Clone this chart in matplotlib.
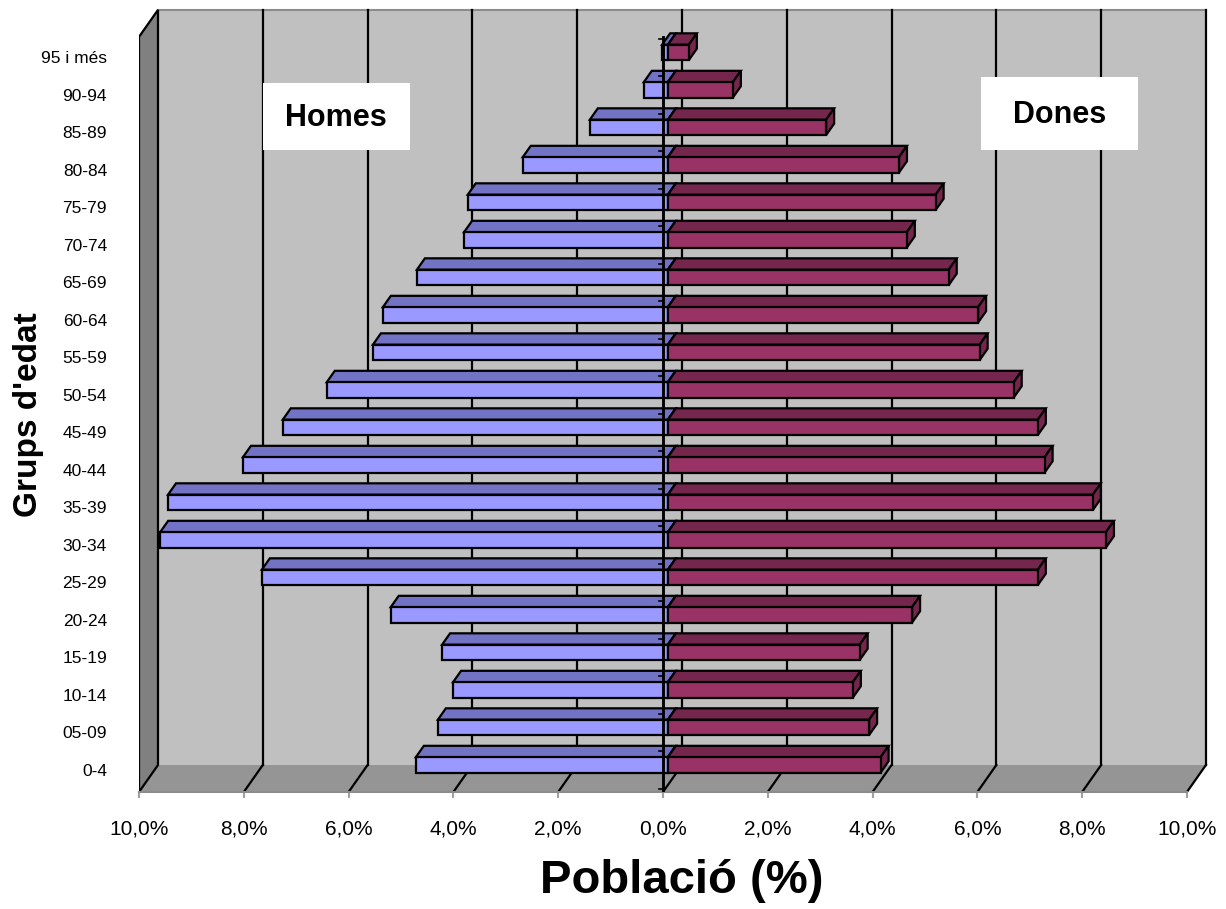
import matplotlib
matplotlib.use("Agg")
import matplotlib.pyplot as plt
from matplotlib.patches import Polygon, Rectangle

plt.rcParams['font.family'] = ['Liberation Sans', 'DejaVu Sans']

# ---------------- data ----------------
age_groups = ["0-4", "05-09", "10-14", "15-19", "20-24", "25-29", "30-34", "35-39",
              "40-44", "45-49", "50-54", "55-59", "60-64", "65-69", "70-74", "75-79",
              "80-84", "85-89", "90-94", "95 i més"]
homes = [4.81, 4.39, 4.10, 4.31, 5.29, 7.75, 9.69, 9.54, 8.11, 7.35,
         6.51, 5.63, 5.44, 4.79, 3.89, 3.82, 2.77, 1.49, 0.46, 0.11]
dones = [4.06, 3.84, 3.53, 3.66, 4.66, 7.06, 8.36, 8.11, 7.19, 7.06,
         6.60, 5.95, 5.92, 5.36, 4.56, 5.11, 4.41, 3.02, 1.24, 0.40]
xticks = [-10, -8, -6, -4, -2, 0, 2, 4, 6, 8, 10]
xticklabels = ["10,0%", "8,0%", "6,0%", "4,0%", "2,0%", "0,0%", "2,0%", "4,0%", "6,0%", "8,0%", "10,0%"]

# ---------------- style / geometry ----------------
W, H = 1226, 909
fig = plt.figure(figsize=(W / 100, H / 100), dpi=100)
ax = fig.add_axes([139 / W, (H - 792) / H, 1071 / W, 784 / H])
XMIN, XMAX = -10, 10
CBOT, CTOP = -0.587, 19.55          # front plane extent in category units
DX, DY = 0.3626, 0.72               # wall depth offset
F0, F1 = 0.26, 0.68                 # bar depth fractions
HH = 0.205                          # bar half height
ax.set_xlim(-10, 10.44)
ax.set_ylim(CBOT, 20.32)

wall_c = "#C0C0C0"
side_c = "#808080"
floor_c = "#959595"
men_front, men_top = "#9999FF", "#7373C6"
wom_front, wom_top = "#993366", "#74264D"
LW = 1.6

# back wall
ax.add_patch(Polygon([(XMIN + DX, CBOT + DY), (XMAX + DX, CBOT + DY),
                      (XMAX + DX, CTOP + DY), (XMIN + DX, CTOP + DY)],
                     closed=True, facecolor=wall_c, edgecolor="none", zorder=1))
ax.plot([XMIN + DX, XMAX + DX], [CTOP + DY, CTOP + DY], color="#8C8C8C", lw=1.5, zorder=1.5)
# floor
ax.add_patch(Polygon([(XMIN, CBOT), (XMAX, CBOT), (XMAX + DX, CBOT + DY), (XMIN + DX, CBOT + DY)],
                     closed=True, facecolor=floor_c, edgecolor="none", zorder=1))
# left wall
ax.add_patch(Polygon([(XMIN, CBOT), (XMIN + DX, CBOT + DY), (XMIN + DX, CTOP + DY), (XMIN, CTOP)],
                     closed=True, facecolor=side_c, edgecolor="black", lw=LW, zorder=2))
# gridlines
for xv in xticks[1:]:
    ax.plot([xv + DX, xv + DX], [CBOT + DY, CTOP + DY], color="black", lw=LW, zorder=1.6)
    ax.plot([xv, xv + DX], [CBOT, CBOT + DY], color="black", lw=LW, zorder=1.6)

# bars
def draw_bar(i, v, front, top):
    yc = i - 0.05
    y0 = yc - HH
    y1 = yc + HH
    x0 = 0.0
    fdx0, fdy0 = F0 * DX, F0 * DY
    fdx1, fdy1 = F1 * DX, F1 * DY
    z = 3 + (19 - i) * 0.01
    # top face
    ax.add_patch(Polygon([(x0 + fdx0, y1 + fdy0), (v + fdx0, y1 + fdy0),
                          (v + fdx1, y1 + fdy1), (x0 + fdx1, y1 + fdy1)],
                         closed=True, facecolor=top, edgecolor="black", lw=LW, zorder=z))
    # end face (visible on the right side only)
    xe = max(v, x0)
    ax.add_patch(Polygon([(xe + fdx0, y0 + fdy0), (xe + fdx1, y0 + fdy1),
                          (xe + fdx1, y1 + fdy1), (xe + fdx0, y1 + fdy0)],
                         closed=True, facecolor=top, edgecolor="black", lw=LW, zorder=z))
    # front face
    ax.add_patch(Polygon([(x0 + fdx0, y0 + fdy0), (v + fdx0, y0 + fdy0),
                          (v + fdx0, y1 + fdy0), (x0 + fdx0, y1 + fdy0)],
                         closed=True, facecolor=front, edgecolor="black", lw=LW, zorder=z))

for i, v in enumerate(homes):
    draw_bar(i, -v, men_front, men_top)
for i, v in enumerate(dones):
    draw_bar(i, v, wom_front, wom_top)

# zero axis line + small ticks
ax.plot([0, 0], [CBOT, CTOP], color="black", lw=LW * 1.3, zorder=5)
for k in range(len(age_groups) + 1):
    ax.plot([-0.08, 0], [k - 0.5, k - 0.5], color="black", lw=1.2, zorder=5)

# axes styling
for s in ["top", "right", "left"]:
    ax.spines[s].set_visible(False)
ax.spines["bottom"].set_color("#8C8C8C")
ax.spines["bottom"].set_linewidth(1.5)
ax.spines["bottom"].set_bounds(XMIN, XMAX)
ax.set_xticks(xticks)
ax.set_xticklabels(xticklabels, fontsize=15)
ax.tick_params(axis="x", length=4, width=1.5, color="#A0A0A0", pad=16)
ax.set_yticks(range(len(age_groups)))
ax.set_yticklabels(age_groups, fontsize=12.5)
ax.tick_params(axis="y", length=0, pad=23)
ax.patch.set_visible(False)

# labels
fig.text(28 / W, 1 - 415 / H, "Grups d'edat", rotation=90, fontsize=24, fontweight="bold",
         ha="center", va="center")
fig.text(682 / W, 1 - 893 / H, "Població (%)", fontsize=34, fontweight="bold",
         ha="center", va="baseline")

# gender boxes
fig.patches.append(Rectangle((263 / W, 1 - 150 / H), 147 / W, 67 / H, transform=fig.transFigure,
                             facecolor="white", edgecolor="none", zorder=10))
fig.text(336 / W, 1 - 118 / H, "Homes", fontsize=22, fontweight="bold", ha="center",
         va="center", zorder=11)
fig.patches.append(Rectangle((981 / W, 1 - 150 / H), 157 / W, 73 / H, transform=fig.transFigure,
                             facecolor="white", edgecolor="none", zorder=10))
fig.text(1060 / W, 1 - 115 / H, "Dones", fontsize=22, fontweight="bold", ha="center",
         va="center", zorder=11)

fig.savefig("out.png", dpi=100)
